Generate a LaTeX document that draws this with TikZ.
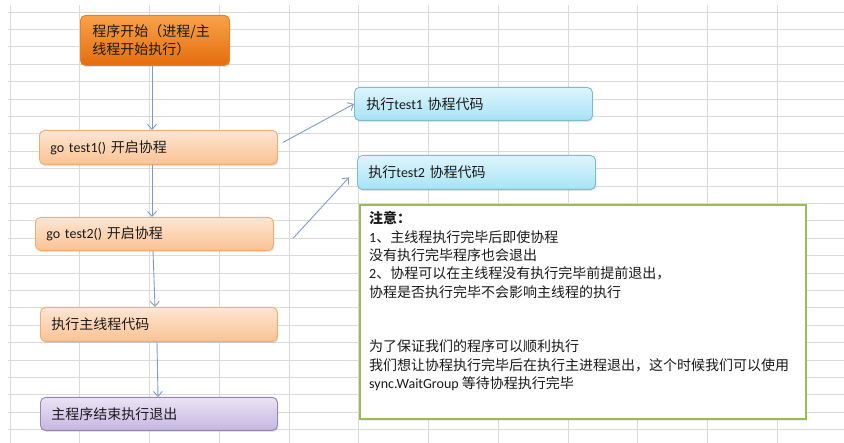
\documentclass[tikz,border=0pt]{standalone}
\usepackage{fontspec}
\setmainfont{Noto Sans CJK SC}
\newfontfamily\latf{Carlito}
\newcommand{\lat}[1]{{\latf #1}}
\usetikzlibrary{arrows.meta,shadows,calc}
\definecolor{gridc}{HTML}{DADADA}
\definecolor{arrc}{HTML}{7F9CC8}
\definecolor{obTop}{HTML}{F9A24A}
\definecolor{obBot}{HTML}{E46D0C}
\definecolor{obLine}{HTML}{E8801E}
\definecolor{loTop}{HTML}{FDE6D2}
\definecolor{loBot}{HTML}{FBC294}
\definecolor{loLine}{HTML}{F2AE72}
\definecolor{cyTop}{HTML}{DDF5FC}
\definecolor{cyBot}{HTML}{A8E3F5}
\definecolor{cyLine}{HTML}{7CBCCC}
\definecolor{puTop}{HTML}{EAE3F4}
\definecolor{puBot}{HTML}{C6B6E2}
\definecolor{puLine}{HTML}{9486B0}
\definecolor{noteLine}{HTML}{9BBB59}
\definecolor{txt}{HTML}{1A1A1A}
\tikzset{
  gridline/.style={draw=gridc, line width=0.9pt},
  box/.style={anchor=north west, rounded corners=5pt, line width=0.9pt,
    align=left, inner xsep=11pt, inner ysep=0pt, text=txt,
    drop shadow={shadow xshift=1pt, shadow yshift=-1.5pt, opacity=0.22}},
  darkorange/.style={box, draw=obLine, top color=obTop, bottom color=obBot},
  lightorange/.style={box, draw=loLine, top color=loTop, bottom color=loBot},
  cyanbox/.style={box, draw=cyLine, top color=cyTop, bottom color=cyBot},
  purplebox/.style={box, draw=puLine, top color=puTop, bottom color=puBot},
  notebox/.style={anchor=north west, draw=noteLine, line width=2.4pt, fill=white,
    inner sep=0pt,
    drop shadow={shadow xshift=1pt, shadow yshift=-1.5pt, opacity=0.15}},
  notetext/.style={anchor=north west, align=left, inner sep=0pt, text=txt},
  arr/.style={draw=arrc, line width=0.9pt, -{Straight Barb[length=5pt,width=9pt,line width=0.9pt]}}
}
\begin{document}
\begin{tikzpicture}[x=1pt,y=-1pt, font=\fontsize{14pt}{18.3pt}\selectfont]
\useasboundingbox (0,0) rectangle (844,443);
\fill[white] (0,0) rectangle (844,443);
% spreadsheet grid
\foreach \k in {0,...,11} \draw[gridline] ({10+69.75*\k},5) -- ({10+69.75*\k},443);
\foreach \k in {0,...,24} \draw[gridline] (8,{12+17.4*\k}) -- (844,{12+17.4*\k});
% main flow
\node[darkorange, minimum width=149pt, minimum height=50pt, inner xsep=12pt, text width=125pt] (start) at (80,15) {程序开始（进程/主\\线程开始执行）};
\node[lightorange, minimum width=238pt, minimum height=34pt, text width=216pt] (t1) at (39,130) {\lat{go test1() }开启协程};
\node[lightorange, minimum width=238pt, minimum height=33pt, text width=216pt] (t2) at (35,217) {\lat{go test2() }开启协程};
\node[lightorange, minimum width=237pt, minimum height=34pt, text width=215pt] (main) at (40,307) {执行主线程代码};
\node[purplebox, minimum width=237pt, minimum height=33pt, text width=215pt] (end) at (40,397) {主程序结束执行退出};
% coroutines
\node[cyanbox, minimum width=238pt, minimum height=33pt, inner xsep=12pt, text width=214pt] (c1) at (354,87) {执行\lat{test1 }协程代码};
\node[cyanbox, minimum width=238pt, minimum height=34pt, text width=216pt] (c2) at (357,155) {执行\lat{test2 }协程代码};
% note
\node[notebox, minimum width=446pt, minimum height=214pt] (note) at (359,204) {};
\node[notetext] (notetxt) at (369,211.5) {{\bfseries 注意：}\\
\lat{1}、主线程执行完毕后即使协程\\
没有执行完毕程序也会退出\\
\lat{2}、协程可以在主线程没有执行完毕前提前退出，\\
协程是否执行完毕不会影响主线程的执行\\
\mbox{}\\
\mbox{}\\
为了保证我们的程序可以顺利执行\\
我们想让协程执行完毕后在执行主进程退出，这个时候我们可以使用\\
\lat{sync.WaitGroup }等待协程执行完毕};
% connectors
\draw[arr] (start.south -| 152,0) -- (t1.north -| 152,0);
\draw[arr] (t1.south -| 152,0) -- (t2.north -| 152,0);
\draw[arr] (t2.south -| 153,0) -- (main.north -| 155,0);
\draw[arr] (main.south -| 157,0) -- (end.north -| 158,0);
\draw[arr] ($(t1.east)+(5,-5)$) -- ($(c1.west)+(0,0)$);
\draw[arr] ($(t2.east)+(19,4.5)$) -- ($(c2.west)+(-8,5)$);
\end{tikzpicture}
\end{document}
